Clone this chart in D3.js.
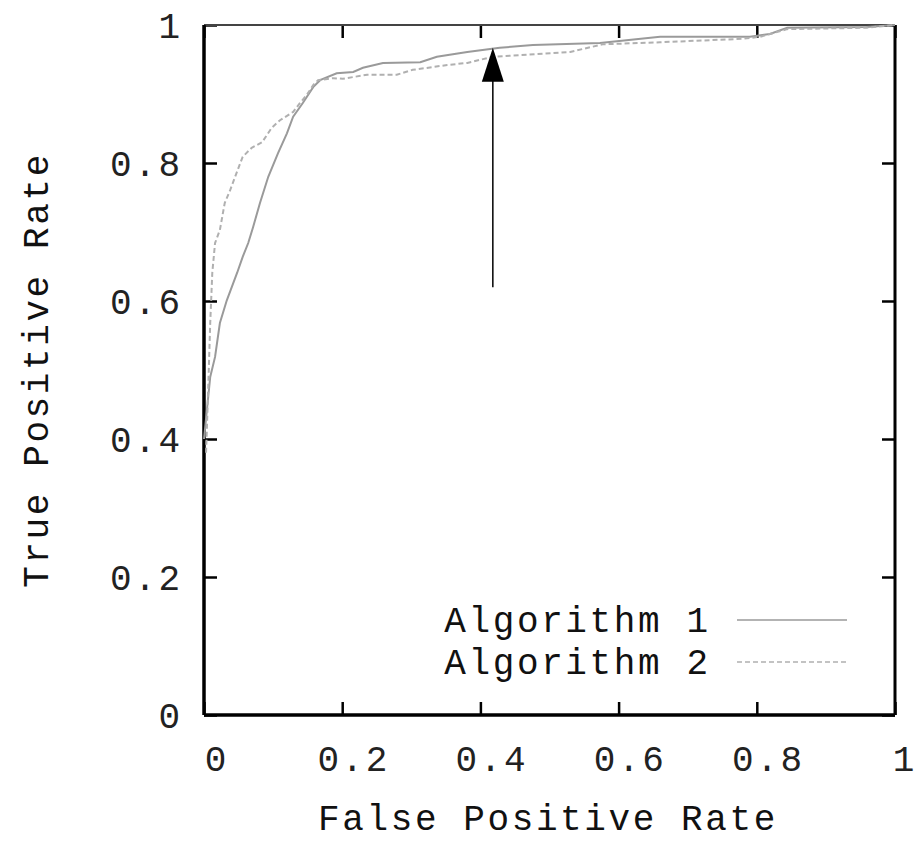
<!DOCTYPE html>
<html>
<head>
<meta charset="utf-8">
<script src="https://cdn.jsdelivr.net/npm/d3@7"></script>
<style>
  body { margin: 0; background: #fff; }
  svg text { font-family: "Liberation Mono", "DejaVu Sans Mono", monospace; }
</style>
</head>
<body>
<div id="chart"></div>
<script>
// ROC curves
const alg1Fpr = [0, 0.009, 0.016, 0.023, 0.033, 0.048, 0.056, 0.064, 0.071, 0.081, 0.093, 0.107, 0.120, 0.129, 0.143, 0.158, 0.168, 0.192, 0.216, 0.230, 0.259, 0.313, 0.337, 0.381, 0.428, 0.476, 0.573, 0.660, 0.790, 0.819, 0.844, 0.959, 1];
const alg1Tpr = [0.40, 0.49, 0.519, 0.568, 0.601, 0.641, 0.664, 0.684, 0.707, 0.742, 0.780, 0.814, 0.843, 0.867, 0.887, 0.910, 0.920, 0.930, 0.932, 0.938, 0.945, 0.946, 0.954, 0.961, 0.967, 0.971, 0.974, 0.983, 0.983, 0.987, 0.996, 0.997, 1];

const alg2Fpr = [0.003, 0.006, 0.009, 0.012, 0.016, 0.023, 0.030, 0.038, 0.045, 0.056, 0.069, 0.084, 0.098, 0.110, 0.129, 0.139, 0.149, 0.158, 0.165, 0.187, 0.201, 0.236, 0.279, 0.302, 0.352, 0.381, 0.418, 0.467, 0.530, 0.577, 0.660, 0.780, 0.805, 0.844, 0.959, 1];
const alg2Tpr = [0.38, 0.471, 0.568, 0.641, 0.684, 0.703, 0.742, 0.761, 0.780, 0.809, 0.822, 0.830, 0.851, 0.862, 0.874, 0.887, 0.899, 0.913, 0.920, 0.923, 0.922, 0.928, 0.928, 0.935, 0.942, 0.945, 0.954, 0.957, 0.961, 0.972, 0.975, 0.980, 0.983, 0.994, 0.996, 1];

const tickVals = [0, 0.2, 0.4, 0.6, 0.8, 1];
const legendLabels = ['Algorithm 1', 'Algorithm 2'];
const xTitle = 'False Positive Rate';
const yTitle = 'True Positive Rate';
// arrow annotation (fpr, tpr from -> to)
const arrowFrom = [0.418, 0.62];
const arrowTo = [0.418, 0.967];

const width = 918, height = 842;
const margin = { top: 25, right: 23, bottom: 127, left: 204 };
const w = width - margin.left - margin.right;
const h = height - margin.top - margin.bottom;

const svg = d3.select('#chart').append('svg')
  .attr('width', width)
  .attr('height', height);

const g = svg.append('g')
  .attr('transform', `translate(${margin.left},${margin.top})`);

const x = d3.scaleLinear().domain([0, 1]).range([0, w]);
const y = d3.scaleLinear().domain([0, 1]).range([h, 0]);
const fmt = d3.format('~g');

const FONT = 36, LS = 2.6;

// axes with inward ticks
const xAxis = g.append('g')
  .attr('transform', `translate(0,${h})`)
  .call(d3.axisBottom(x).tickValues(tickVals).tickFormat(fmt).tickSize(-13).tickPadding(30));
const xTop = g.append('g')
  .call(d3.axisTop(x).tickValues(tickVals).tickFormat('').tickSize(-13));
const yAxis = g.append('g')
  .call(d3.axisLeft(y).tickValues(tickVals).tickFormat(fmt).tickSize(-13).tickPadding(24));
const yRight = g.append('g')
  .attr('transform', `translate(${w},0)`)
  .call(d3.axisRight(y).tickValues(tickVals).tickFormat('').tickSize(-13));

[xAxis, xTop, yAxis, yRight].forEach(a => {
  a.select('.domain').remove();
  a.selectAll('.tick line').attr('stroke', '#000').attr('stroke-width', 2.5);
  a.selectAll('text')
    .attr('font-size', FONT)
    .attr('letter-spacing', LS)
    .attr('fill', '#222')
    .attr('font-family', '"Liberation Mono", monospace');
});
// single characters get no extra spacing so the last one stays inside the page
xAxis.selectAll('text')
  .attr('letter-spacing', d => fmt(d).length > 1 ? LS : 0)
  .attr('dx', d => d === 1 ? 8 : 11);
yAxis.selectAll('text').attr('dy', '0.36em').attr('dx', LS);

// frame
g.append('line').attr('x1', 0).attr('x2', w).attr('y1', 0).attr('y2', 0)
  .attr('stroke', '#444').attr('stroke-width', 2);
g.append('line').attr('x1', 0).attr('x2', 0).attr('y1', 0).attr('y2', h)
  .attr('stroke', '#000').attr('stroke-width', 3.5);
g.append('line').attr('x1', 0).attr('x2', w).attr('y1', h).attr('y2', h)
  .attr('stroke', '#000').attr('stroke-width', 3.5);
g.append('line').attr('x1', w).attr('x2', w).attr('y1', 0).attr('y2', h)
  .attr('stroke', '#000').attr('stroke-width', 3);

// curves
const line = d3.line().x(d => x(d[0])).y(d => y(d[1]));
const alg1 = alg1Fpr.map((v, i) => [v, alg1Tpr[i]]);
const alg2 = alg2Fpr.map((v, i) => [v, alg2Tpr[i]]);

g.append('path').datum(alg1)
  .attr('d', line)
  .attr('fill', 'none')
  .attr('stroke', '#9a9a9a')
  .attr('stroke-width', 2);
g.append('path').datum(alg2)
  .attr('d', line)
  .attr('fill', 'none')
  .attr('stroke', '#b0b0b0')
  .attr('stroke-width', 2)
  .attr('stroke-dasharray', '5,3');

// arrow
const ax = x(arrowFrom[0]);
g.append('line')
  .attr('x1', ax).attr('x2', ax)
  .attr('y1', y(arrowFrom[1])).attr('y2', y(arrowTo[1]) + 30)
  .attr('stroke', '#000').attr('stroke-width', 1.5);
const tipY = y(arrowTo[1]);
g.append('path')
  .attr('d', `M${ax},${tipY} L${ax - 11},${tipY + 34} L${ax + 11},${tipY + 34} Z`)
  .attr('fill', '#000');

// legend
const legend = g.append('g');
legendLabels.forEach((lab, i) => {
  const ly = 620 - margin.top + i * 42;
  legend.append('text')
    .attr('x', 708 - margin.left + LS)
    .attr('y', ly + 12)
    .attr('text-anchor', 'end')
    .attr('font-size', FONT)
    .attr('letter-spacing', LS)
    .attr('fill', '#111')
    .text(lab);
  legend.append('line')
    .attr('x1', 737 - margin.left).attr('x2', 847 - margin.left)
    .attr('y1', ly).attr('y2', ly)
    .attr('stroke', i === 0 ? '#9a9a9a' : '#b0b0b0')
    .attr('stroke-width', 1.5)
    .attr('stroke-dasharray', i === 0 ? null : '5,3');
});

// axis titles
svg.append('text')
  .attr('x', 548)
  .attr('y', 830)
  .attr('text-anchor', 'middle')
  .attr('font-size', FONT)
  .attr('letter-spacing', LS)
  .attr('fill', '#111')
  .text(xTitle);

svg.append('text')
  .attr('transform', 'translate(48,370) rotate(-90)')
  .attr('text-anchor', 'middle')
  .attr('font-size', FONT)
  .attr('letter-spacing', LS)
  .attr('fill', '#111')
  .text(yTitle);
</script>
</body>
</html>
